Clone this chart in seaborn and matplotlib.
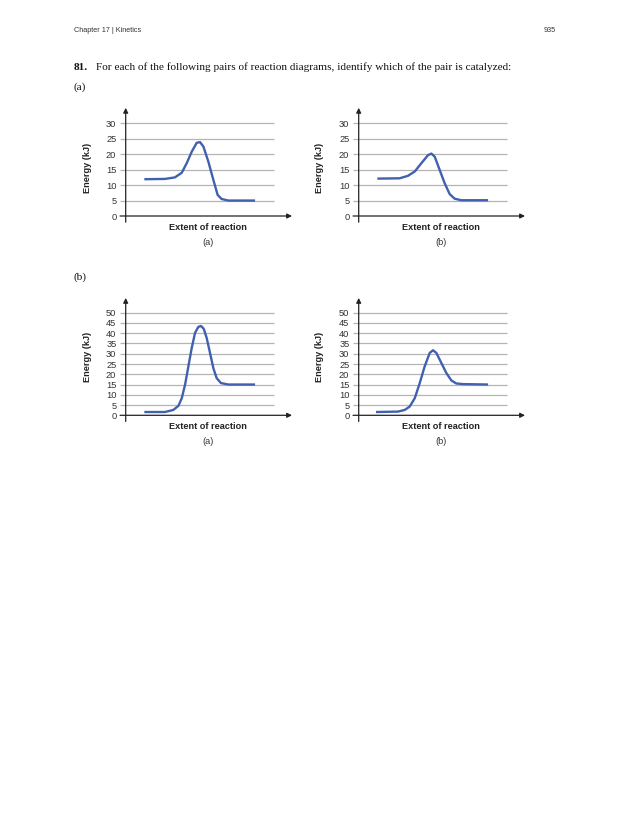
import matplotlib
matplotlib.use("Agg")
import matplotlib.pyplot as plt
import seaborn as sns

# values (extent 0..100 = y axis .. arrow tip)
pair_a_ext_a = [11.2, 23.6, 29.6, 33.7, 36.7, 39.7, 42.7, 44.7, 46.7, 49.7, 52.7, 55.3, 57.7, 61.7, 77.8]
pair_a_en_a = [11.9, 12.0, 12.5, 14.0, 17.1, 20.8, 23.7, 23.9, 22.5, 17.6, 11.7, 6.8, 5.5, 5.0, 5.0]

pair_a_ext_b = [11.2, 24.6, 29.6, 33.7, 37.7, 41.7, 43.7, 45.7, 48.7, 51.7, 54.7, 57.7, 61.7, 77.8]
pair_a_en_b = [12.1, 12.2, 13.0, 14.4, 17.1, 19.7, 20.2, 19.2, 14.9, 10.6, 7.1, 5.6, 5.1, 5.1]

pair_b_ext_a = [11.2, 23.6, 28.6, 31.7, 33.7, 35.7, 37.7, 39.7, 41.7, 43.7, 45.3, 46.9, 48.7,
                50.7, 52.7, 54.7, 57.3, 61.7, 77.8]
pair_b_en_a = [1.6, 1.6, 2.6, 4.6, 8.3, 14.9, 23.9, 32.8, 40.2, 43.1, 43.5, 42.2, 37.7,
               30.4, 23.0, 18.1, 15.7, 15.0, 15.0]

pair_b_ext_b = [10.4, 23.6, 27.6, 30.6, 33.7, 36.7, 39.7, 42.7, 44.7, 46.7, 49.7, 52.7, 55.7,
                58.7, 62.9, 77.8]
pair_b_en_b = [1.6, 1.8, 2.6, 4.2, 8.3, 15.7, 23.9, 30.4, 31.7, 30.4, 25.5, 20.6, 17.0,
               15.5, 15.2, 15.0]

ticks_a = [0, 5, 10, 15, 20, 25, 30]
ticks_b = [0, 5, 10, 15, 20, 25, 30, 35, 40, 45, 50]

header_left = "Chapter 17 | Kinetics"
header_right = "935"
question_num = "81."
question_text = "For each of the following pairs of reaction diagrams, identify which of the pair is catalyzed:"

sns.set_theme(style="white")
plt.rcParams["font.family"] = ["Liberation Sans", "DejaVu Sans"]

W, H = 630, 815
fig = plt.figure(figsize=(W / 100, H / 100), dpi=100)
fig.patch.set_facecolor("white")

EXT_PX = 1.663
CURVE = "#4260b0"
AXIS = "#222222"
GRID = "#b4b4b4"


def add_panel(x_axis_px, y_zero_px, y_scale, y_lo, y_hi, ticks, arrow_top, ext, en,
              label_x_px, label_y_px, sub, x_lo=-3.6, x_hi=101):
    left = x_axis_px + x_lo * EXT_PX
    right = x_axis_px + x_hi * EXT_PX
    top = y_zero_px - y_hi * y_scale
    bottom = y_zero_px - y_lo * y_scale
    ax = fig.add_axes([left / W, 1 - bottom / H, (right - left) / W, (bottom - top) / H])
    ax.set_xlim(x_lo, x_hi)
    ax.set_ylim(y_lo, y_hi)
    for s in ax.spines.values():
        s.set_visible(False)
    ax.set_facecolor("none")

    ax.hlines([t for t in ticks if t > 0], -3.4, 89, color=GRID, lw=0.9, zorder=1)
    # axes with arrow heads
    ax.annotate("", xy=(100, 0), xytext=(-3.4, 0),
                arrowprops=dict(arrowstyle="-|>", color=AXIS, lw=0.9, mutation_scale=7,
                                shrinkA=0, shrinkB=0), zorder=3)
    ax.annotate("", xy=(0, arrow_top), xytext=(0, y_lo + 1),
                arrowprops=dict(arrowstyle="-|>", color=AXIS, lw=0.9, mutation_scale=7,
                                shrinkA=0, shrinkB=0), zorder=3)

    sns.lineplot(x=ext, y=en, ax=ax, color=CURVE, lw=1.7, sort=False, estimator=None, zorder=4)
    for ln in ax.get_lines():
        ln.set_solid_joinstyle("round")
        ln.set_solid_capstyle("butt")

    ax.set_xticks([])
    ax.set_yticks(ticks)
    ax.tick_params(axis="y", length=0, pad=2.4, labelsize=6.7, labelcolor="#333333")
    ax.set_xlabel("")
    ax.set_ylabel("Energy (kJ)", fontsize=6.6, fontweight="bold", color="#222222")
    ax.yaxis.set_label_coords((label_x_px - left) / (right - left),
                              (bottom - label_y_px) / (bottom - top))

    cx = x_axis_px + 49.5 * EXT_PX
    fig.text(cx / W, 1 - (y_zero_px + 11.5) / H, "Extent of reaction", ha="center", va="center",
             fontsize=6.6, fontweight="bold", color="#222222")
    fig.text(cx / W, 1 - (y_zero_px + 26.5) / H, sub, ha="center", va="center",
             fontsize=6.6, color="#333333")
    return ax


add_panel(125.7, 216, 3.09, -3, 36, ticks_a, 35, pair_a_ext_a, pair_a_en_a, 92, 168, "(a)")
add_panel(358.7, 216, 3.09, -3, 36, ticks_a, 35, pair_a_ext_b, pair_a_en_b, 324, 168, "(b)")
add_panel(125.7, 415.3, 2.052, -4, 59, ticks_b, 57.2, pair_b_ext_a, pair_b_en_a, 92, 357, "(a)")
add_panel(358.7, 415.3, 2.052, -4, 59, ticks_b, 57.2, pair_b_ext_b, pair_b_en_b, 324, 357, "(b)")

# page text
serif = ["Liberation Serif", "DejaVu Serif"]
fig.text(74 / W, 1 - 30 / H, header_left, ha="left", va="center", fontsize=5.2, color="#333333")
fig.text(556 / W, 1 - 30 / H, header_right, ha="right", va="center", fontsize=5.2, color="#333333")
fig.text(73.5 / W, 1 - 67.5 / H, question_num, ha="left", va="center", fontsize=8.1,
         fontweight="bold", family=serif, color="#111111")
fig.text(95.5 / W, 1 - 67.5 / H, question_text, ha="left", va="center", fontsize=8.1,
         family=serif, color="#111111")
fig.text(73.5 / W, 1 - 87 / H, "(a)", ha="left", va="center", fontsize=8.1,
         family=serif, color="#111111")
fig.text(73.5 / W, 1 - 277 / H, "(b)", ha="left", va="center", fontsize=8.1,
         family=serif, color="#111111")

fig.savefig("out.png", dpi=100)
